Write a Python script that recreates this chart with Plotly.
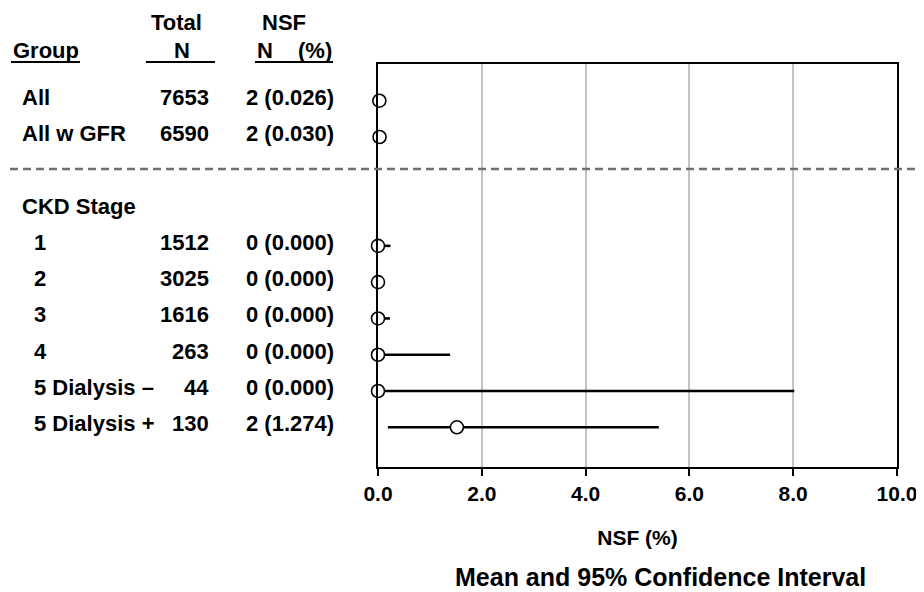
import plotly.graph_objects as go

# ---------------- data ----------------
group_labels = ["All", "All w GFR", "CKD Stage", "1", "2", "3", "4", "5 Dialysis \u2013", "5 Dialysis +"]
is_stage = [False, False, False, True, True, True, True, True, True]
total_n = [7653, 6590, None, 1512, 3025, 1616, 263, 44, 130]
nsf_n = [2, 2, None, 0, 0, 0, 0, 0, 2]
nsf_pct_text = ["0.026", "0.030", None, "0.000", "0.000", "0.000", "0.000", "0.000", "1.274"]
mean_pct = [0.026, 0.030, None, 0.0, 0.0, 0.0, 0.0, 0.0, 1.52]
ci_low = [0.003, 0.004, None, 0.0, 0.0, 0.0, 0.0, 0.0, 0.19]
ci_high = [0.094, 0.110, None, 0.24, 0.12, 0.23, 1.39, 8.02, 5.41]
x_ticks = [0, 2, 4, 6, 8, 10]

# ---------------- layout helpers ----------------
W, H = 924, 592
OFF = 8  # page offset of the figure
FONT = "Liberation Sans, Arial, sans-serif"
slots = [i + (1 if i >= 2 else 0) for i in range(len(group_labels))]
sep_slot = 1.88
TOP, BOT = 64, 467          # plot area in screen px
ROW0, ROWSTEP = 100.7, 36.29


def px(x):
    return (x - OFF) / W


def py(y):
    return 1 - (y - OFF) / H


y_top = (TOP - ROW0) / ROWSTEP
y_bot = (BOT - ROW0) / ROWSTEP

fig = go.Figure()

ys = [s for s, m in zip(slots, mean_pct) if m is not None]
xs = [m for m in mean_pct if m is not None]
plus = [h - m for h, m in zip(ci_high, mean_pct) if m is not None]
minus = [m - l for l, m in zip(ci_low, mean_pct) if m is not None]

fig.add_trace(go.Scatter(
    x=xs, y=ys, mode="markers",
    marker=dict(symbol="circle", size=13, color="white",
                line=dict(color="black", width=1.6)),
    error_x=dict(type="data", symmetric=False, array=plus, arrayminus=minus,
                 color="black", thickness=2.6, width=0),
    showlegend=False, hoverinfo="skip", cliponaxis=False,
))

annotations = []
tfont = dict(family=FONT, size=22, color="black", weight="bold")

# header
hdr = [
    dict(text="Group", x=px(11), y=py(50), xanchor="left"),
    dict(text="Total", x=px(176), y=py(22), xanchor="center"),
    dict(text="N", x=px(182), y=py(50), xanchor="center"),
    dict(text="NSF", x=px(284), y=py(22), xanchor="center"),
    dict(text="N", x=px(255), y=py(50), xanchor="left"),
    dict(text="(%)", x=px(334), y=py(50), xanchor="right"),
]
for a in hdr:
    a.update(xref="paper", yref="paper", yanchor="middle", showarrow=False, font=tfont)
annotations += hdr

# rows
for lab, st, tn, n, pt, s in zip(group_labels, is_stage, total_n, nsf_n, nsf_pct_text, slots):
    common = dict(y=s, xref="paper", yref="y", yanchor="middle", yshift=3.5,
                  showarrow=False, font=tfont)
    annotations.append(dict(text=lab, x=px(32 if st else 20), xanchor="left", **common))
    if tn is not None:
        annotations.append(dict(text=str(tn), x=px(211), xanchor="right", **common))
        annotations.append(dict(text=f"{n} ({pt})", x=px(336), xanchor="right", **common))

annotations.append(dict(text="Mean and 95% Confidence Interval", x=px(660), y=py(577),
                        xref="paper", yref="paper", xanchor="center", yanchor="middle",
                        showarrow=False,
                        font=dict(family=FONT, size=25, color="black", weight="bold")))

ul = dict(color="black", width=2)
shapes = [
    dict(type="line", xref="paper", yref="paper", x0=px(11), x1=px(80), y0=py(62), y1=py(62), line=ul),
    dict(type="line", xref="paper", yref="paper", x0=px(146), x1=px(215), y0=py(62), y1=py(62), line=ul),
    dict(type="line", xref="paper", yref="paper", x0=px(255), x1=px(333), y0=py(62), y1=py(62), line=ul),
    dict(type="line", xref="paper", yref="y", x0=px(10), x1=1, y0=sep_slot, y1=sep_slot,
         line=dict(color="#707070", width=2.5, dash="8px,5px")),
]

fig.update_layout(
    width=W, height=H,
    margin=dict(l=0, r=0, t=0, b=0, autoexpand=False),
    paper_bgcolor="white", plot_bgcolor="white",
    annotations=annotations, shapes=shapes,
    xaxis=dict(
        domain=[px(378), px(897)], range=[0, 10], automargin=False,
        tickvals=x_ticks, tickformat=".1f",
        ticks="outside", ticklen=7, tickwidth=2, tickcolor="black",
        showgrid=True, gridcolor="#c4c4c4", gridwidth=1.5,
        zeroline=False, showline=True, linecolor="black", linewidth=2, mirror=True,
        tickfont=dict(family=FONT, size=21, color="black", weight="bold"),
        title=dict(text="NSF (%)", standoff=26,
                   font=dict(family=FONT, size=21, color="black", weight="bold")),
        fixedrange=True,
    ),
    yaxis=dict(
        domain=[py(BOT), py(TOP)], range=[y_bot, y_top], automargin=False,
        showticklabels=False, ticks="", showgrid=False, zeroline=False,
        showline=True, linecolor="black", linewidth=2, mirror=True,
        fixedrange=True,
    ),
)

fig.write_html("out.html")
